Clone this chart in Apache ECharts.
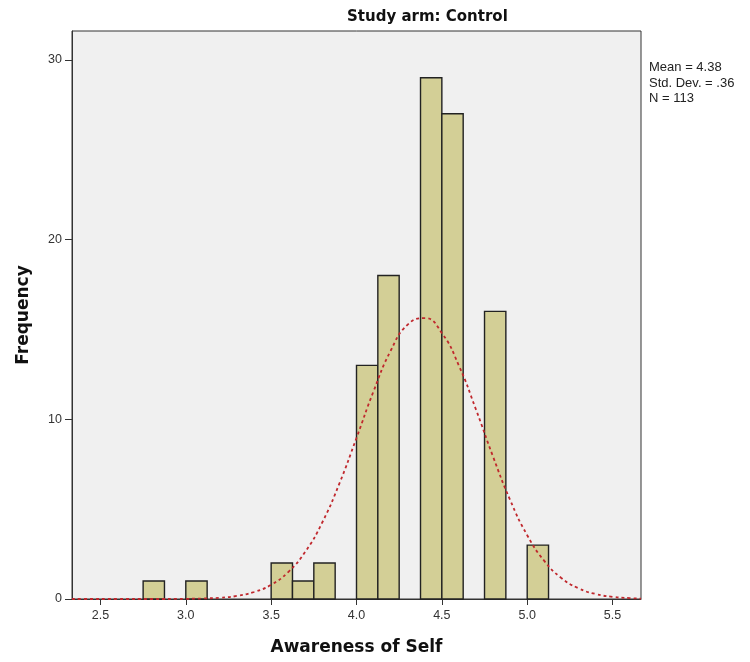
<!DOCTYPE html>
<html>
<head>
<meta charset="utf-8">
<script src="https://cdn.jsdelivr.net/npm/echarts@6/dist/echarts.min.js"></script>
<style>
  html, body { margin: 0; padding: 0; background: #fff; }
  #chart { width: 750px; height: 662px; }
</style>
</head>
<body>
<div id="chart"></div>
<script>
// histogram bins (lower / upper edge) and counts
const binLow = [2.75, 3.0, 3.5, 3.625, 3.75, 4.0, 4.125, 4.375, 4.5, 4.75, 5.0]
const binHigh = [2.875, 3.125, 3.625, 3.75, 3.875, 4.125, 4.25, 4.5, 4.625, 4.875, 5.125]
const counts = [1, 1, 2, 1, 2, 13, 18, 29, 27, 16, 3]

// normal curve
const curveX = [2.333, 2.4, 2.6, 2.8, 3.0, 3.1, 3.2, 3.3, 3.4, 3.5, 3.6, 3.7, 3.8, 3.9, 4.0, 4.1, 4.2, 4.3, 4.4,
  4.5, 4.6, 4.7, 4.8, 4.9, 5.0, 5.1, 5.2, 5.3, 5.4, 5.5, 5.6, 5.667]
const curveY = [0, 0, 0, 0, 0.01, 0.03, 0.07, 0.17, 0.39, 0.79, 1.5, 2.63, 4.27, 6.43, 8.96, 11.56, 13.81, 15.27, 15.63,
  14.8, 12.98, 10.54, 7.92, 5.51, 3.55, 2.12, 1.17, 0.6, 0.28, 0.12, 0.05, 0.02]

const xTicks = [2.5, 3.0, 3.5, 4.0, 4.5, 5.0, 5.5]
const yTicks = [0, 10, 20, 30]

const chart = echarts.init(document.getElementById('chart'))

const wideFont = '"DejaVu Sans", Verdana, sans-serif'
const plainFont = '"Liberation Sans", Arial, sans-serif'

const option = {
  backgroundColor: '#fff',
  animation: false,
  title: {
    text: 'Study arm: Control',
    left: 342,
    top: 5,
    textStyle: { fontFamily: wideFont, fontSize: 15, fontWeight: 'bold', color: '#111' }
  },
  grid: {
    left: 72,
    top: 31,
    right: 109,
    bottom: 63,
    show: true,
    backgroundColor: '#f0f0f0',
    borderColor: '#333',
    borderWidth: 1
  },
  xAxis: {
    type: 'value',
    min: 2.3333,
    max: 5.6667,
    name: 'Awareness of Self',
    nameLocation: 'middle',
    nameGap: 40,
    nameTextStyle: { fontFamily: wideFont, fontSize: 17, fontWeight: 'bold', color: '#111' },
    splitLine: { show: false },
    axisLine: { show: true, lineStyle: { color: '#333' } },
    axisTick: { show: true, length: 6, customValues: xTicks, lineStyle: { color: '#333' } },
    axisLabel: {
      customValues: xTicks,
      margin: 10,
      fontFamily: plainFont,
      fontSize: 12.5,
      color: '#333',
      formatter: v => v.toFixed(1)
    }
  },
  yAxis: {
    type: 'value',
    min: 0,
    max: 31.6,
    name: 'Frequency',
    nameLocation: 'middle',
    nameGap: 40,
    nameTextStyle: { fontFamily: wideFont, fontSize: 17, fontWeight: 'bold', color: '#111' },
    splitLine: { show: false },
    axisLine: { show: true, lineStyle: { color: '#333' } },
    axisTick: { show: true, length: 7, customValues: yTicks, lineStyle: { color: '#333' } },
    axisLabel: {
      customValues: yTicks,
      margin: 10,
      fontFamily: plainFont,
      fontSize: 12.5,
      color: '#333'
    }
  },
  graphic: [{
    type: 'text',
    left: 649,
    top: 60,
    style: {
      text: 'Mean = 4.38\nStd. Dev. = .36\nN = 113',
      font: '13px "Liberation Sans", Arial, sans-serif',
      fill: '#222',
      lineHeight: 15.5
    }
  }],
  series: [
    {
      type: 'custom',
      data: counts.map((c, i) => [binLow[i], binHigh[i], c]),
      renderItem(params, api) {
        const p0 = api.coord([api.value(0), 0])
        const p1 = api.coord([api.value(1), api.value(2)])
        return {
          type: 'rect',
          shape: { x: p0[0], y: p1[1], width: p1[0] - p0[0], height: p0[1] - p1[1] },
          style: { fill: '#d3cf96', stroke: '#222', lineWidth: 1.4 }
        }
      },
      z: 2
    },
    {
      type: 'line',
      data: curveX.map((x, i) => [x, curveY[i]]),
      smooth: true,
      symbol: 'none',
      lineStyle: { color: '#c0282d', width: 1.8, type: [3, 3] },
      z: 3
    }
  ]
}

chart.setOption(option)
</script>
</body>
</html>
